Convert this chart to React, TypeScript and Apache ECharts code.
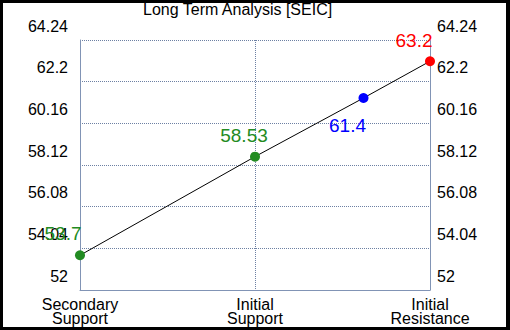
import React, { useEffect, useRef } from "react";
import * as echarts from "echarts";

const titleText = "Long Term Analysis [SEIC]";
const categoryNames = ["Secondary\nSupport", "Initial\nSupport", "Initial\nResistance"];
const pointX = [0, 1, 1.62, 2];
const pointValues = [53.7, 58.53, 61.4, 63.2];
const pointColors = ["#228B22", "#228B22", "#0000FF", "#FF0000"];
const labelPlacement: ("top" | "bottom")[] = ["top", "top", "bottom", "top"];
const labelOffsets = [[-17, -2], [-11, -2], [-16, 8], [-16, -1]];
const yMin = 52;
const yMax = 64.24;
const yStep = 2.04;

const FONT = "'Liberation Sans', Arial, sans-serif";
const AXIS_COLOR = "#8194b5";
const GRID_COLOR = "#6d80a3";

export default function App() {
  const ref = useRef<HTMLDivElement>(null);
  useEffect(() => {
    if (!ref.current) return;
    const chart = echarts.init(ref.current, undefined, { renderer: "svg" });
    const yAxisBase = (pos: "left" | "right", margin: number, split: boolean) => ({
      type: "value",
      position: pos,
      min: yMin,
      max: yMax,
      interval: yStep,
      axisLine: { show: true, lineStyle: { color: AXIS_COLOR, width: 1 } },
      axisTick: { show: false },
      splitLine: { show: split, lineStyle: { type: "dotted", color: GRID_COLOR, width: 1 } },
      axisLabel: {
        margin,
        color: "#000",
        fontSize: 16,
        fontFamily: FONT,
        verticalAlign: "bottom",
        lineHeight: 28,
        formatter: (v: number) => String(Math.round(v * 100) / 100),
      },
    });
    chart.setOption({
      animation: false,
      backgroundColor: "#000",
      graphic: [
        { type: "rect", z: -10, shape: { x: 3, y: 3, width: 503, height: 324 }, style: { fill: "#fff" } },
      ],
      title: {
        text: titleText,
        left: 143,
        top: 1,
        padding: 0,
        textStyle: { fontSize: 16, fontWeight: "normal", color: "#000", fontFamily: FONT },
      },
      grid: { left: 80, right: 80, top: 40, bottom: 40, containLabel: false },
      xAxis: {
        type: "value",
        min: 0,
        max: 2,
        interval: 1,
        axisLine: { show: true, lineStyle: { color: AXIS_COLOR, width: 1 } },
        axisTick: { show: false },
        splitLine: { show: true, lineStyle: { type: "dotted", color: GRID_COLOR, width: 1 } },
        axisLabel: {
          margin: 7,
          color: "#000",
          fontSize: 16,
          lineHeight: 14,
          fontFamily: FONT,
          showMinLabel: true,
          showMaxLabel: true,
          formatter: (v: number) => categoryNames[Math.round(v)] ?? "",
        },
      },
      yAxis: [yAxisBase("left", 12, true), yAxisBase("right", 7, false)],
      series: [
        {
          type: "line",
          symbol: "circle",
          symbolSize: 10,
          lineStyle: { color: "#000", width: 1 },
          data: pointX.map((x, i) => ({
            value: [x, pointValues[i]],
            itemStyle: { color: pointColors[i] },
            label: {
              show: true,
              position: labelPlacement[i],
              offset: labelOffsets[i],
              color: pointColors[i],
              fontSize: 19,
              fontFamily: FONT,
              formatter: String(pointValues[i]),
            },
          })),
        },
      ],
    });
    return () => chart.dispose();
  }, []);
  return (
    <div
      ref={ref}
      style={{ position: "fixed", left: 0, top: 0, width: 510, height: 330 }}
    />
  );
}
